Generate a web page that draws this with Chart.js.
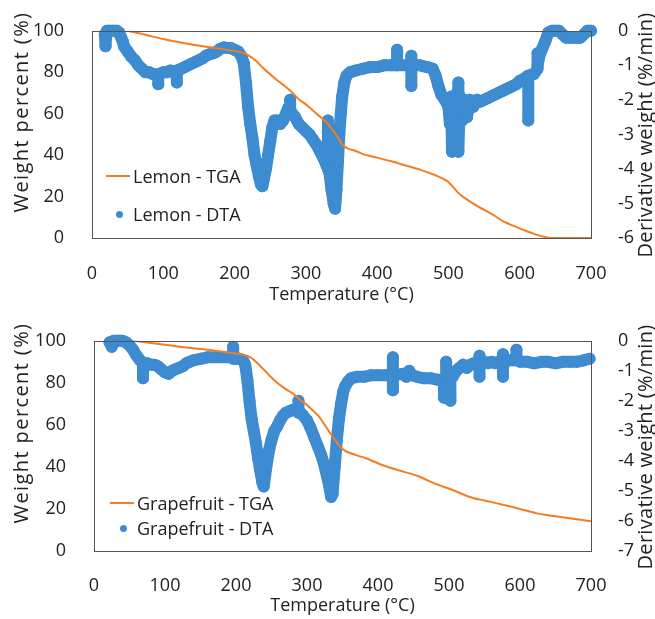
<!DOCTYPE html>
<html>
<head>
<meta charset="utf-8">
<script src="https://cdn.jsdelivr.net/npm/chart.js@4.4.1/dist/chart.umd.min.js"></script>
<style>
  html, body { margin: 0; padding: 0; background: #fff; }
  .panel { position: absolute; left: 0; width: 655px; }
  .panel canvas { position: absolute; left: 0; top: 0; }
  .legend { position: absolute; left: 0; top: 0; font: 18px "Open Sans", sans-serif; color: #222; }
  .legend .row { position: absolute; white-space: nowrap; height: 24px; line-height: 24px; }
  .legend .mark { position: absolute; }
</style>
</head>
<body>
<div class="panel" style="top:0;height:310px">
  <canvas id="lemonChart" width="655" height="310"></canvas>
  <div class="legend" id="lemonLegend"></div>
</div>
<div class="panel" style="top:310px;height:309px">
  <canvas id="grapeChart" width="655" height="309"></canvas>
  <div class="legend" id="grapeLegend"></div>
</div>
<script>
// x axis ticks (temperature, °C)
const tempTicks = [0, 100, 200, 300, 400, 500, 600, 700];

// Lemon - TGA (weight %, left axis)
const lemonTgaT = [50, 70, 100, 130, 160, 190, 210, 220, 230, 240, 250, 260, 270, 280, 290, 300, 310, 320, 330, 340, 345, 350, 355, 360, 370, 380, 400, 420, 440, 460, 480, 490, 500, 513, 520, 540, 561, 580, 607, 620, 635, 645, 700];
const lemonTga  = [100, 98.5, 96, 94, 92.3, 90.8, 89.5, 88, 85.5, 82, 79, 76, 73.5, 70.5, 67, 64.5, 61.5, 58.5, 55.5, 51, 48.5, 45.5, 44, 43, 42, 40.5, 38.8, 37, 35, 33, 30.5, 29, 27, 22, 20, 15.5, 11.5, 7.5, 3.7, 2, 0.5, 0, 0];

// Lemon - DTA (derivative weight %/min, right axis)
const lemonDtaT = [18, 19, 20, 21, 25, 30, 35, 38, 40, 43,
  45, 50, 55, 60, 65, 70, 75, 80, 85, 90,
  93, 93, 93, 95, 100, 105, 110, 115, 119, 119,
  119, 120, 125, 130, 135, 140, 145, 150, 155, 160,
  165, 170, 175, 180, 185, 190, 195, 200, 205, 210,
  213, 216, 219, 222, 225, 228, 231, 234, 237, 239,
  241, 244, 247, 250, 253, 256, 260, 264, 268, 272,
  275, 278, 278, 278, 281, 285, 290, 295, 300, 305,
  310, 315, 320, 325, 329, 331, 331, 331, 333, 336,
  339, 341, 343, 345, 347, 349, 351, 354, 357, 362,
  370, 380, 390, 400, 410, 420, 428, 428, 428, 440,
  448, 448, 448, 448, 455, 460, 470, 478, 482, 486,
  490, 495, 500, 502, 504, 505, 505, 507, 510, 512,
  514, 514, 516, 519, 522, 526, 530, 535, 540, 545,
  550, 555, 560, 565, 570, 575, 580, 585, 590, 595,
  600, 605, 612, 612, 612, 620, 625, 625, 625, 628,
  632, 636, 640, 645, 650, 655, 660, 665, 670, 675,
  680, 685, 690, 695, 700];
const lemonDta = [-0.1, -0.45, -0.1, 0, 0, 0, 0, -0.05, -0.15, -0.3,
  -0.45, -0.6, -0.75, -0.85, -1.0, -1.1, -1.2, -1.2, -1.25, -1.3,
  -1.3, -1.55, -1.25, -1.25, -1.2, -1.2, -1.15, -1.2, -1.2, -1.5,
  -1.15, -1.15, -1.1, -1.05, -1.0, -0.95, -0.9, -0.85, -0.8, -0.72,
  -0.68, -0.65, -0.6, -0.52, -0.48, -0.5, -0.5, -0.55, -0.6, -0.75,
  -0.95, -1.5, -2.2, -2.7, -3.1, -3.6, -3.9, -4.2, -4.45, -4.5,
  -4.3, -4.0, -3.6, -3.2, -2.8, -2.6, -2.6, -2.7, -2.6, -2.4,
  -2.25, -2.25, -2.0, -2.35, -2.4, -2.5, -2.7, -2.8, -2.9, -3.0,
  -3.15, -3.3, -3.5, -3.7, -3.9, -3.9, -2.6, -4.0, -4.1, -4.6,
  -5.0, -5.15, -4.6, -3.8, -3.0, -2.4, -1.9, -1.5, -1.3, -1.2,
  -1.15, -1.1, -1.05, -1.05, -1.0, -1.0, -1.0, -0.55, -1.0, -1.0,
  -1.0, -0.72, -1.6, -1.0, -1.0, -1.0, -1.05, -1.1, -1.3, -1.6,
  -1.85, -2.0, -2.2, -2.7, -1.9, -2.4, -3.5, -2.8, -2.0, -2.7,
  -1.5, -3.5, -1.9, -2.6, -2.0, -2.5, -2.0, -2.2, -2.0, -2.05,
  -2.0, -1.95, -1.9, -1.85, -1.8, -1.75, -1.7, -1.65, -1.6, -1.55,
  -1.45, -1.4, -1.3, -2.6, -1.3, -1.25, -1.1, -0.65, -1.0, -0.7,
  -0.5, -0.3, -0.05, 0, 0, 0, -0.1, -0.2, -0.2, -0.2,
  -0.2, -0.2, -0.1, 0, 0];

// Grapefruit - TGA
const grapeTgaT = [55, 80, 103, 130, 168, 206, 217, 225, 238, 250, 258, 270, 280, 290, 300, 314, 318, 332, 342, 350, 356, 370, 384, 407, 430, 455, 483, 506, 529, 550, 576, 600, 624, 650, 675, 700];
const grapeTga  = [100, 99, 98, 96.8, 95.4, 93.6, 92.7, 91, 86.7, 82.5, 80, 77, 75, 72, 69.5, 65, 63.5, 56.4, 51.8, 48.5, 47.2, 45.5, 44, 40.8, 38.3, 35.8, 31.7, 28.9, 25.7, 24, 22, 20, 17.9, 16.5, 15.3, 14.2];

// Grapefruit - DTA
const grapeDtaT = [22, 25, 28, 35, 40, 45, 50, 55, 60, 65,
  69, 69, 69, 75, 80, 85, 90, 95, 100, 105,
  110, 115, 120, 125, 130, 135, 140, 150, 160, 170,
  180, 190, 196, 196, 196, 200, 205, 210, 213, 216,
  219, 222, 225, 228, 231, 234, 237, 239, 241, 244,
  247, 250, 254, 258, 262, 266, 270, 275, 280, 285,
  288, 288, 288, 291, 295, 300, 305, 310, 315, 320,
  325, 328, 331, 334, 336, 339, 342, 345, 348, 351,
  354, 358, 362, 370, 380, 390, 400, 410, 421, 421,
  421, 421, 435, 440, 444, 448, 455, 465, 475, 485,
  493, 493, 493, 496, 496, 496, 502, 502, 502, 505,
  510, 515, 520, 525, 530, 535, 543, 543, 543, 543,
  550, 555, 560, 565, 570, 576, 576, 576, 576, 580,
  585, 590, 595, 595, 595, 600, 610, 620, 630, 640,
  650, 660, 670, 680, 690, 698];
const grapeDta = [-0.05, -0.2, 0, 0, 0, -0.05, -0.15, -0.3, -0.5, -0.65,
  -0.75, -1.25, -0.75, -0.75, -0.8, -0.8, -0.85, -0.95, -1.05, -1.1,
  -1.0, -0.95, -0.9, -0.85, -0.75, -0.7, -0.65, -0.6, -0.55, -0.55,
  -0.55, -0.55, -0.55, -0.2, -0.6, -0.6, -0.6, -0.65, -0.8, -1.3,
  -2.0, -2.6, -3.0, -3.4, -3.9, -4.3, -4.7, -4.85, -4.5, -4.0,
  -3.6, -3.3, -3.0, -2.85, -2.65, -2.5, -2.4, -2.35, -2.3, -2.3,
  -2.3, -2.0, -2.4, -2.4, -2.5, -2.65, -2.9, -3.2, -3.5, -3.8,
  -4.2, -4.5, -4.8, -5.2, -5.1, -4.2, -3.3, -2.6, -2.1, -1.7,
  -1.5, -1.35, -1.25, -1.2, -1.2, -1.15, -1.15, -1.15, -1.15, -0.55,
  -1.65, -1.15, -1.1, -1.2, -1.0, -1.15, -1.2, -1.25, -1.25, -1.3,
  -1.3, -1.9, -1.3, -1.3, -0.7, -1.3, -1.3, -2.0, -1.2, -1.2,
  -1.0, -0.9, -0.8, -0.9, -0.8, -0.75, -0.75, -1.2, -0.5, -0.75,
  -0.7, -0.75, -0.7, -0.75, -0.7, -0.7, -1.2, -0.45, -0.7, -0.7,
  -0.65, -0.65, -0.65, -0.3, -0.65, -0.7, -0.7, -0.75, -0.7, -0.7,
  -0.75, -0.7, -0.7, -0.7, -0.65, -0.6];

const ORANGE = '#f57c20';
const BLUE = '#3d8bd0';
const FONT = { family: '"Open Sans", sans-serif', size: 18 };
const TEXT = '#222';

function pairs(xs, ys) {
  return xs.map((x, i) => ({ x, y: ys[i] }));
}

// frame box + rotated side titles (both read bottom to top)
const frame = {
  id: 'frame',
  afterDraw(chart, args, opts) {
    const { ctx, chartArea: a } = chart;
    ctx.save();
    ctx.strokeStyle = '#555';
    ctx.lineWidth = 1;
    ctx.strokeRect(Math.round(a.left) + 0.5, Math.round(a.top) + 0.5, Math.round(a.right - a.left), Math.round(a.bottom - a.top));
    ctx.fillStyle = TEXT;
    ctx.textAlign = 'center';
    ctx.textBaseline = 'middle';
    opts.titles.forEach(t => {
      ctx.save();
      ctx.font = t.size + 'px ' + FONT.family;
      ctx.letterSpacing = t.spacing + 'px';
      ctx.translate(t.x, t.y);
      ctx.rotate(-Math.PI / 2);
      ctx.fillText(t.text, 0, 0);
      ctx.restore();
    });
    ctx.restore();
  }
};

function makeChart(id, cfg) {
  return new Chart(document.getElementById(id), {
    type: 'scatter',
    data: {
      datasets: [
        {
          label: cfg.names[0],
          data: pairs(cfg.tgaT, cfg.tga),
          yAxisID: 'y',
          showLine: true,
          borderColor: ORANGE,
          backgroundColor: ORANGE,
          borderWidth: 2,
          pointRadius: 0,
          tension: 0.3
        },
        {
          label: cfg.names[1],
          data: pairs(cfg.dtaT, cfg.dta),
          yAxisID: 'y1',
          showLine: true,
          borderColor: BLUE,
          backgroundColor: BLUE,
          borderWidth: 12,
          borderJoinStyle: 'round',
          borderCapStyle: 'round',
          pointRadius: 6,
          pointBorderWidth: 0,
          clip: 8
        }
      ]
    },
    options: {
      responsive: false,
      animation: false,
      layout: { padding: { top: cfg.top, left: 0, right: 0, bottom: 0 } },
      plugins: {
        legend: { display: false },
        tooltip: { enabled: false },
        frame: { titles: cfg.titles }
      },
      scales: {
        x: {
          type: 'linear',
          min: 0, max: 700,
          afterBuildTicks: s => { s.ticks = tempTicks.map(v => ({ value: v })); },
          grid: { display: false },
          border: { display: false },
          ticks: { font: FONT, color: TEXT, padding: cfg.tickPad },
          title: { display: true, text: 'Temperature (°C)', font: FONT, color: TEXT, padding: { top: 0, bottom: cfg.titlePad } },
          afterFit: s => { s.height = cfg.xHeight; }
        },
        y: {
          position: 'left',
          min: 0, max: 100,
          ticks: { stepSize: 20, font: FONT, color: TEXT, padding: 20 },
          grid: { display: false },
          border: { display: false },
          afterFit: s => { s.width = cfg.leftW; }
        },
        y1: {
          position: 'right',
          min: cfg.dtaMin, max: 0,
          ticks: { stepSize: 1, font: FONT, color: TEXT, padding: 19 },
          grid: { display: false },
          border: { display: false },
          afterFit: s => { s.width = 64; }
        }
      }
    },
    plugins: [frame]
  });
}

function drawLegend(chart, el, rows) {
  chart.data.datasets.forEach((ds, i) => {
    const r = rows[i];
    const row = document.createElement('div');
    row.className = 'row';
    row.style.left = r.x + 'px';
    row.style.top = (r.y - 12) + 'px';
    const mark = document.createElement('span');
    mark.className = 'mark';
    if (i === 0) {
      mark.style.cssText = `left:-27px;top:11px;width:24px;height:2px;background:${ds.borderColor}`;
    } else {
      mark.style.cssText = `left:-17px;top:9px;width:7px;height:7px;border-radius:50%;background:${ds.backgroundColor}`;
    }
    row.appendChild(mark);
    row.appendChild(document.createTextNode(ds.label));
    el.appendChild(row);
  });
}

const lemon = makeChart('lemonChart', {
  names: ['Lemon - TGA', 'Lemon - DTA'],
  tgaT: lemonTgaT, tga: lemonTga, dtaT: lemonDtaT, dta: lemonDta,
  dtaMin: -6, top: 22, xHeight: 72, leftW: 92, titlePad: 4, tickPad: 17,
  titles: [
    { text: 'Weight percent (%)', x: 22, y: 112, size: 20, spacing: 1.4 },
    { text: 'Derivative weight (%/min)', x: 646, y: 135, size: 20, spacing: 0.3 }
  ]
});
drawLegend(lemon, document.getElementById('lemonLegend'), [
  { x: 133, y: 176 }, { x: 133, y: 214 }
]);

const grape = makeChart('grapeChart', {
  names: ['Grapefruit - TGA', 'Grapefruit - DTA'],
  tgaT: grapeTgaT, tga: grapeTga, dtaT: grapeDtaT, dta: grapeDta,
  dtaMin: -7, top: 23, xHeight: 68, leftW: 94, titlePad: 2, tickPad: 16,
  titles: [
    { text: 'Weight percent (%)', x: 22, y: 113, size: 20, spacing: 1.4 },
    { text: 'Derivative weight (%/min)', x: 646, y: 137, size: 20, spacing: 0.3 }
  ]
});
drawLegend(grape, document.getElementById('grapeLegend'), [
  { x: 137, y: 193 }, { x: 137, y: 218 }
]);
</script>
</body>
</html>
